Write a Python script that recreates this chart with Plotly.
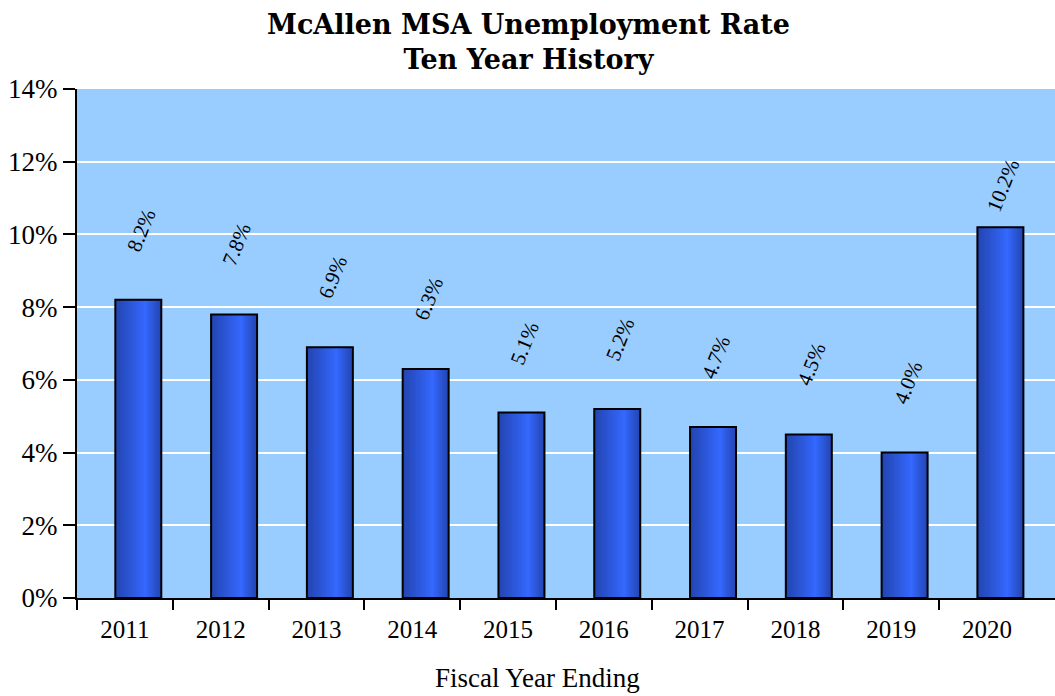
import plotly.graph_objects as go

years = ["2011", "2012", "2013", "2014", "2015", "2016", "2017", "2018", "2019", "2020"]
rates = [8.2, 7.8, 6.9, 6.3, 5.1, 5.2, 4.7, 4.5, 4.0, 10.2]
y_ticks = [0, 2, 4, 6, 8, 10, 12, 14]

SERIF = "Liberation Serif"
BAR_W = 0.48
BAR_OFF = -0.10      # bars sit a little right of each category centre
PEAK = 0.65          # where the sheen is brightest, as a fraction of bar width
LAYERS = 14
DARK = (36, 70, 178)
BRIGHT = (52, 104, 255)

xpos = list(range(len(years)))
boundaries = [i - 0.5 for i in xpos]

fig = go.Figure()

# Layered bars give each column a horizontal sheen (dark edges, bright core)
for k in range(LAYERS):
    t = k / (LAYERS - 1)
    left = t * PEAK * BAR_W * 0.97
    right = BAR_W - t * (1 - PEAK) * BAR_W * 0.97
    c = tuple(round(DARK[i] + (BRIGHT[i] - DARK[i]) * t) for i in range(3))
    fig.add_trace(go.Bar(
        x=xpos, y=rates,
        width=right - left,
        offset=BAR_OFF + left,
        marker=dict(color="rgb(%d,%d,%d)" % c, line=dict(width=0)),
        hoverinfo="skip", showlegend=False,
    ))

# Outline on top
fig.add_trace(go.Bar(
    x=xpos, y=rates, width=BAR_W, offset=BAR_OFF,
    marker=dict(color="rgba(0,0,0,0)", line=dict(color="black", width=2)),
    customdata=years, hovertemplate="%{customdata}: %{y:.1f}%<extra></extra>",
    showlegend=False,
))

top = max(rates)
for i, v in zip(xpos, rates):
    fig.add_annotation(
        x=i + BAR_OFF + BAR_W / 2, y=v, text="%.1f%%" % v, showarrow=False,
        textangle=-68, xshift=3, yshift=42 if v == top else 70,
        font=dict(family=SERIF, size=21, color="black"),
    )

fig.add_annotation(
    text="<b>McAllen MSA Unemployment Rate<br>Ten Year History</b>",
    xref="paper", yref="paper", x=0.462, y=1.0, yshift=12,
    xanchor="center", yanchor="bottom", showarrow=False,
    font=dict(family="DejaVu Serif", size=27, color="black"),
)

fig.add_annotation(
    text="Fiscal Year Ending",
    xref="paper", yref="paper", x=0.471, y=0, yshift=-80,
    xanchor="center", yanchor="middle", showarrow=False,
    font=dict(family=SERIF, size=27, color="black"),
)

fig.update_layout(
    width=1055, height=696,
    margin=dict(l=77, r=0, t=89, b=98),
    paper_bgcolor="white",
    plot_bgcolor="#99ccff",
    barmode="overlay",
    font=dict(family=SERIF, color="black"),
)

fig.update_xaxes(
    range=[-0.5, 9.71],
    tickvals=xpos, ticktext=years,
    showline=True, linecolor="black", linewidth=2,
    ticks="", tickangle=0, ticklabelstandoff=8,
    tickfont=dict(family=SERIF, size=25),
    minor=dict(tickvals=boundaries, ticks="outside", ticklen=10,
               tickwidth=2, tickcolor="black", showgrid=False),
    showgrid=False, zeroline=False,
)
fig.update_yaxes(
    range=[0, 14],
    tickvals=y_ticks,
    ticktext=["%d%%" % v for v in y_ticks],
    showline=True, linecolor="black", linewidth=2,
    ticks="outside", ticklen=12, tickwidth=2, tickcolor="black",
    tickfont=dict(family=SERIF, size=27),
    showgrid=True, gridcolor="white", gridwidth=2,
    zeroline=False,
)

fig.write_html("out.html")
